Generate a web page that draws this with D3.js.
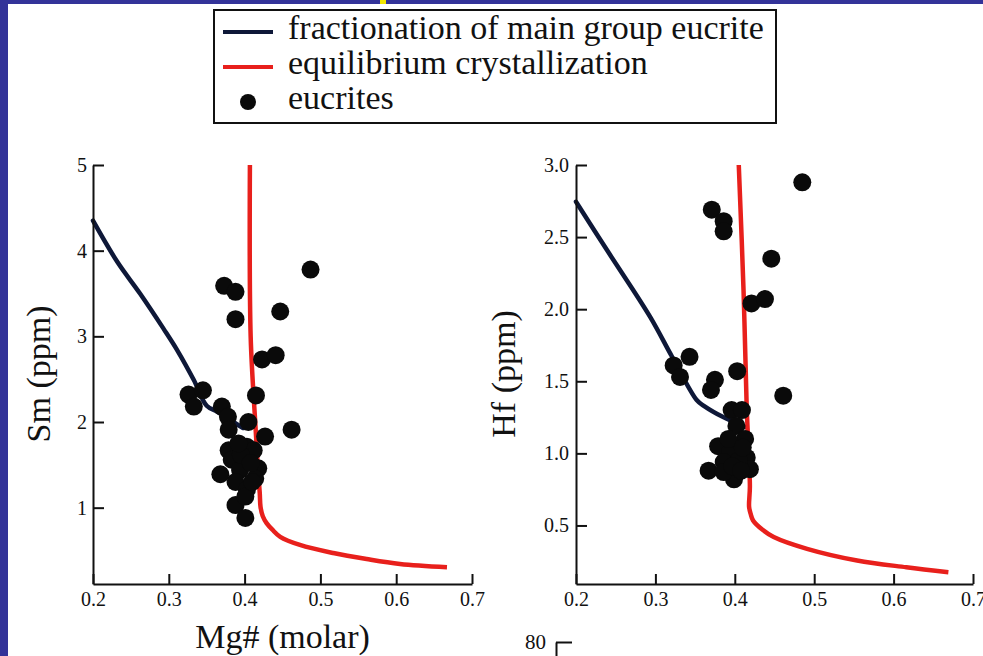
<!DOCTYPE html>
<html>
<head>
<meta charset="utf-8">
<script src="https://cdn.jsdelivr.net/npm/d3@7"></script>
<style>
  body { margin: 0; background: #fff; }
  svg text { font-family: "Liberation Serif", "Times New Roman", serif; fill: #111; }
</style>
</head>
<body>
<svg id="chart"></svg>
<script>
/* data */
var xTicks = [0.2, 0.3, 0.4, 0.5, 0.6, 0.7];
var smTicks = [1, 2, 3, 4, 5];
var hfTicks = [0.5, 1.0, 1.5, 2.0, 2.5, 3.0];
var legendLabels = ["fractionation of main group eucrite", "equilibrium crystallization", "eucrites"];

// Sm panel: [Mg#, Sm ppm]
var smEucrites = [
  [0.487, 3.78], [0.373, 3.59], [0.388, 3.52], [0.388, 3.20], [0.447, 3.29],
  [0.423, 2.73], [0.441, 2.78], [0.415, 2.31], [0.326, 2.32], [0.345, 2.37],
  [0.333, 2.18], [0.370, 2.18], [0.378, 2.06], [0.405, 2.00], [0.379, 1.91],
  [0.427, 1.83], [0.462, 1.91], [0.379, 1.67], [0.403, 1.71], [0.412, 1.67],
  [0.383, 1.56], [0.394, 1.44], [0.368, 1.39], [0.418, 1.46], [0.388, 1.30],
  [0.414, 1.34], [0.403, 1.21], [0.388, 1.03], [0.401, 1.13], [0.401, 0.88],
  [0.395, 1.62], [0.408, 1.52], [0.392, 1.75], [0.410, 1.30]
];
var smFractionation = [
  [0.200, 4.35], [0.232, 3.87], [0.262, 3.50], [0.293, 3.09], [0.311, 2.84],
  [0.333, 2.49], [0.350, 2.19], [0.364, 2.12], [0.385, 2.00], [0.398, 1.93]
];
var smEquilibrium = [
  [0.407, 5.00], [0.408, 3.00], [0.414, 2.00], [0.418, 1.40], [0.420, 1.17],
  [0.421, 1.01], [0.424, 0.90], [0.429, 0.82], [0.437, 0.74], [0.447, 0.66],
  [0.473, 0.565], [0.517, 0.47], [0.561, 0.40], [0.605, 0.343], [0.667, 0.305]
];

// Hf panel: [Mg#, Hf ppm]
var hfEucrites = [
  [0.485, 2.88], [0.371, 2.69], [0.386, 2.61], [0.386, 2.54], [0.446, 2.35],
  [0.421, 2.04], [0.438, 2.07], [0.343, 1.67], [0.323, 1.61], [0.331, 1.53],
  [0.375, 1.51], [0.370, 1.44], [0.403, 1.57], [0.461, 1.40], [0.396, 1.30],
  [0.409, 1.30], [0.402, 1.19], [0.413, 1.10], [0.379, 1.05], [0.394, 1.01],
  [0.415, 0.97], [0.386, 0.94], [0.367, 0.88], [0.419, 0.89], [0.399, 0.82],
  [0.405, 0.95], [0.386, 0.87], [0.392, 1.10], [0.410, 1.04], [0.397, 0.91],
  [0.408, 0.88]
];
var hfFractionation = [
  [0.200, 2.745], [0.239, 2.41], [0.293, 1.95], [0.321, 1.67], [0.352, 1.37],
  [0.361, 1.33], [0.386, 1.25], [0.415, 1.18]
];
var hfEquilibrium = [
  [0.405, 3.00], [0.411, 2.13], [0.415, 1.32], [0.419, 0.77], [0.418, 0.63],
  [0.420, 0.58], [0.423, 0.535], [0.435, 0.47], [0.449, 0.42], [0.491, 0.338],
  [0.554, 0.257], [0.616, 0.21], [0.669, 0.176]
];

var nextPanelTicks = [80];

/* settings */
var width = 983, height = 656,
    bg = "#333399",
    fracColor = "#0e1838",
    eqColor = "#e8201c",
    dotR = 9;

var svg = d3.select("#chart").attr("width", width).attr("height", height);

svg.append("rect").attr("width", width).attr("height", height).attr("fill", bg);
svg.append("rect").attr("x", 8).attr("y", 4).attr("width", width - 8).attr("height", height - 4).attr("fill", "#fff");
svg.append("rect").attr("x", 380).attr("y", 0).attr("width", 6).attr("height", 4).attr("fill", "#f2e600");

function styleAxis(g, fontSize) {
  g.attr("font-family", null).attr("font-size", null);
  g.select(".domain").attr("stroke", "#111").attr("stroke-width", 2);
  g.selectAll(".tick line").attr("stroke", "#111").attr("stroke-width", 2);
  g.selectAll(".tick text").style("font-size", fontSize + "px");
}

function drawPanel(p) {
  var x = d3.scaleLinear().domain([0.2, 0.7]).range(p.xRange);
  var y = d3.scaleLinear().domain(p.yDomain).range([p.axisY, p.yTop]);

  var g = svg.append("g");

  // lines under the dots
  var line = d3.line()
    .x(function (d) { return x(d[0]); })
    .y(function (d) { return y(d[1]); })
    .curve(d3.curveCatmullRom.alpha(0.5));

  g.append("path").datum(p.fractionation)
    .attr("d", line).attr("fill", "none")
    .attr("stroke", fracColor).attr("stroke-width", 4.5)
    .attr("stroke-linejoin", "round").attr("stroke-linecap", "round");

  g.append("path").datum(p.equilibrium)
    .attr("d", line).attr("fill", "none")
    .attr("stroke", eqColor).attr("stroke-width", 4.5)
    .attr("stroke-linejoin", "round");

  g.selectAll("circle.eucrite").data(p.eucrites).enter()
    .append("circle").attr("class", "eucrite")
    .attr("cx", function (d) { return x(d[0]); })
    .attr("cy", function (d) { return y(d[1]); })
    .attr("r", dotR).attr("fill", "#0a0a0a");

  // axes, ticks point inward
  var xAxis = d3.axisBottom(x).tickValues(xTicks).tickFormat(d3.format(".1f"))
    .tickSize(-10).tickSizeOuter(0).tickPadding(8);
  var xg = g.append("g").attr("transform", "translate(0," + p.axisY + ")").call(xAxis);
  styleAxis(xg, 20);

  var yAxis = d3.axisLeft(y).tickValues(p.yTicks).tickFormat(p.yFormat)
    .tickSize(-11).tickSizeOuter(0).tickPadding(p.yPad);
  var yg = g.append("g").attr("transform", "translate(" + p.xRange[0] + ",0)").call(yAxis);
  styleAxis(yg, 20);

  // axis titles
  g.append("text")
    .attr("transform", "translate(" + p.yLabelX + "," + p.yLabelY + ") rotate(-90)")
    .attr("text-anchor", "middle")
    .style("font-size", "34px")
    .text(p.yLabel);

  if (p.xLabel) {
    g.append("text")
      .attr("x", (p.xRange[0] + p.xRange[1]) / 2).attr("y", 648)
      .attr("text-anchor", "middle")
      .style("font-size", "34px")
      .text(p.xLabel);
  }
}

drawPanel({
  xRange: [93, 472], axisY: 584, yTop: 165, yDomain: [0.109, 5],
  yTicks: smTicks, yFormat: d3.format("d"), yPad: 6,
  eucrites: smEucrites, fractionation: smFractionation, equilibrium: smEquilibrium,
  yLabel: "Sm (ppm)", yLabelX: 50, yLabelY: 374, xLabel: "Mg# (molar)"
});

drawPanel({
  xRange: [576, 973], axisY: 584, yTop: 165, yDomain: [0.094, 3.0],
  yTicks: hfTicks, yFormat: d3.format(".1f"), yPad: 7,
  eucrites: hfEucrites, fractionation: hfFractionation, equilibrium: hfEquilibrium,
  yLabel: "Hf (ppm)", yLabelX: 515, yLabelY: 374, xLabel: null
});

/* top of the next panel, cut off by the page edge */
var nextY = d3.scaleLinear().domain([0, 80]).range([760, 642]);
var ng = svg.append("g").attr("transform", "translate(556,0)")
  .call(d3.axisLeft(nextY).tickValues(nextPanelTicks).tickSize(-16).tickSizeOuter(0).tickPadding(10));
styleAxis(ng, 21);

/* legend */
var legend = svg.append("g").attr("transform", "translate(214,10)");
legend.append("rect").attr("width", 562).attr("height", 113)
  .attr("fill", "#fff").attr("stroke", "#111").attr("stroke-width", 2);

var rowY = d3.scalePoint().domain(legendLabels).range([22, 92]);

legendLabels.forEach(function (label, i) {
  var yy = rowY(label);
  if (i < 2) {
    legend.append("line")
      .attr("x1", 9).attr("x2", 59).attr("y1", yy).attr("y2", yy)
      .attr("stroke", i === 0 ? fracColor : eqColor).attr("stroke-width", 4);
  } else {
    legend.append("circle").attr("cx", 34).attr("cy", yy).attr("r", 8).attr("fill", "#0a0a0a");
  }
  legend.append("text")
    .attr("x", 74).attr("y", yy + 7)
    .style("font-size", "34px")
    .text(label);
});
</script>
</body>
</html>
